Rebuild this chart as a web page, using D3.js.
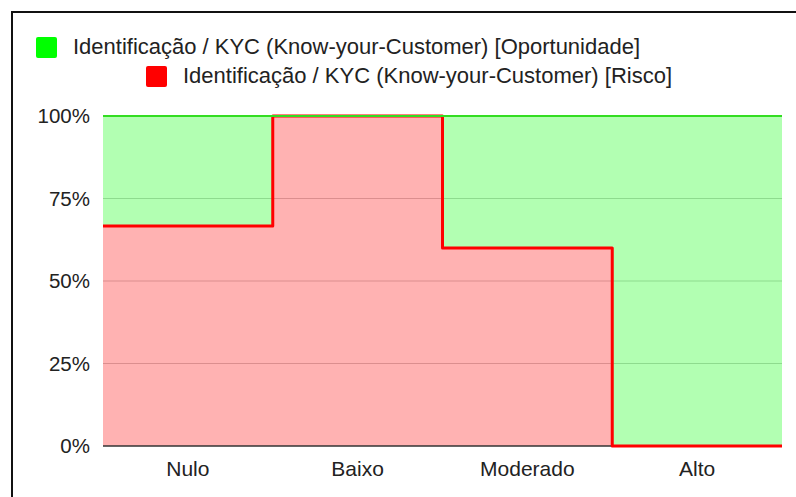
<!DOCTYPE html>
<html lang="pt">
<head>
    <script src="https://d3js.org/d3.v7.min.js"></script>
    <style>
        body { margin: 0; background: #fff; }
        text { font-family: "Liberation Sans", Arial, sans-serif; }
    </style>
</head>
<body>
<div id="chart"></div>
<script>
    const categories = ["Nulo", "Baixo", "Moderado", "Alto"];
    const risco = [66.7, 100, 60, 0];
    const oportunidade = [33.3, 0, 40, 100];
    const yTicks = [0, 25, 50, 75, 100];
    const seriesNames = [
        "Identificação / KYC (Know-your-Customer) [Oportunidade]",
        "Identificação / KYC (Know-your-Customer) [Risco]"
    ];

    const width = 796, height = 497;
    const plot = { left: 103, right: 782, top: 116, bottom: 446 };

    const svg = d3.select("#chart").append("svg")
        .attr("width", width)
        .attr("height", height);

    // frame
    svg.append("rect")
        .attr("x", 12).attr("y", 12)
        .attr("width", 800).attr("height", 500)
        .attr("fill", "none")
        .attr("stroke", "#111")
        .attr("stroke-width", 2);

    const x = d3.scaleBand().domain(categories).range([plot.left, plot.right]);
    const y = d3.scaleLinear().domain([0, 100]).range([plot.bottom, plot.top]);

    const rows = categories.map((c, i) => ({ cat: c, risco: risco[i], oportunidade: oportunidade[i] }));
    const stacked = d3.stack().keys(["risco", "oportunidade"])(rows);

    // step points: each category spans its whole band
    function stepPoints(layer) {
        const pts = [];
        layer.forEach((d, i) => {
            const x0 = x(categories[i]);
            pts.push({ x: x0, y0: d[0], y1: d[1] });
            pts.push({ x: x0 + x.bandwidth(), y0: d[0], y1: d[1] });
        });
        return pts;
    }

    // gridlines
    svg.append("g").selectAll("line")
        .data(yTicks.filter(t => t > 0 && t < 100))
        .join("line")
        .attr("x1", plot.left).attr("x2", plot.right)
        .attr("y1", d => y(d)).attr("y2", d => y(d))
        .attr("stroke", "#ccc");

    const area = d3.area()
        .x(d => d.x)
        .y0(d => y(d.y0))
        .y1(d => y(d.y1));

    const fills = ["#ff0000", "#00ff00"];
    stacked.forEach((layer, k) => {
        svg.append("path")
            .attr("d", area(stepPoints(layer)))
            .attr("fill", fills[k])
            .attr("fill-opacity", 0.3);
    });

    // baseline
    svg.append("line")
        .attr("x1", plot.left).attr("x2", plot.right)
        .attr("y1", y(0)).attr("y2", y(0))
        .attr("stroke", "#333")
        .attr("stroke-width", 1.5);

    const line = d3.line().x(d => d.x).y(d => y(d.y1));
    svg.append("path")
        .attr("d", line(stepPoints(stacked[0])))
        .attr("fill", "none")
        .attr("stroke", "#ff0000")
        .attr("stroke-width", 3)
        .attr("stroke-linejoin", "round");
    svg.append("path")
        .attr("d", line(stepPoints(stacked[1])))
        .attr("fill", "none")
        .attr("stroke", "#33dd22")
        .attr("stroke-width", 2)
        .attr("stroke-linejoin", "round");

    // y axis labels
    svg.append("g").selectAll("text")
        .data(yTicks)
        .join("text")
        .attr("x", 90)
        .attr("y", d => y(d))
        .attr("dy", "0.35em")
        .attr("text-anchor", "end")
        .attr("font-size", 20.5)
        .attr("fill", "#222")
        .text(d => d + "%");

    // x axis labels
    svg.append("g").selectAll("text")
        .data(categories)
        .join("text")
        .attr("x", d => x(d) + x.bandwidth() / 2)
        .attr("y", 476)
        .attr("text-anchor", "middle")
        .attr("font-size", 21)
        .attr("fill", "#222")
        .text(d => d);

    // legend
    const legend = [
        { sx: 36, sy: 37, color: "#00ff00", tx: 73, ty: 54, tw: 567, name: seriesNames[0] },
        { sx: 146, sy: 66, color: "#ff0000", tx: 183, ty: 83, tw: 489, name: seriesNames[1] }
    ];
    legend.forEach(l => {
        svg.append("rect")
            .attr("x", l.sx).attr("y", l.sy)
            .attr("width", 21).attr("height", 21)
            .attr("rx", 2)
            .attr("fill", l.color);
        svg.append("text")
            .attr("x", l.tx).attr("y", l.ty)
            .attr("font-size", 21.5)
            .attr("textLength", l.tw)
            .attr("lengthAdjust", "spacingAndGlyphs")
            .attr("fill", "#222")
            .text(l.name);
    });
</script>
</body>
</html>
